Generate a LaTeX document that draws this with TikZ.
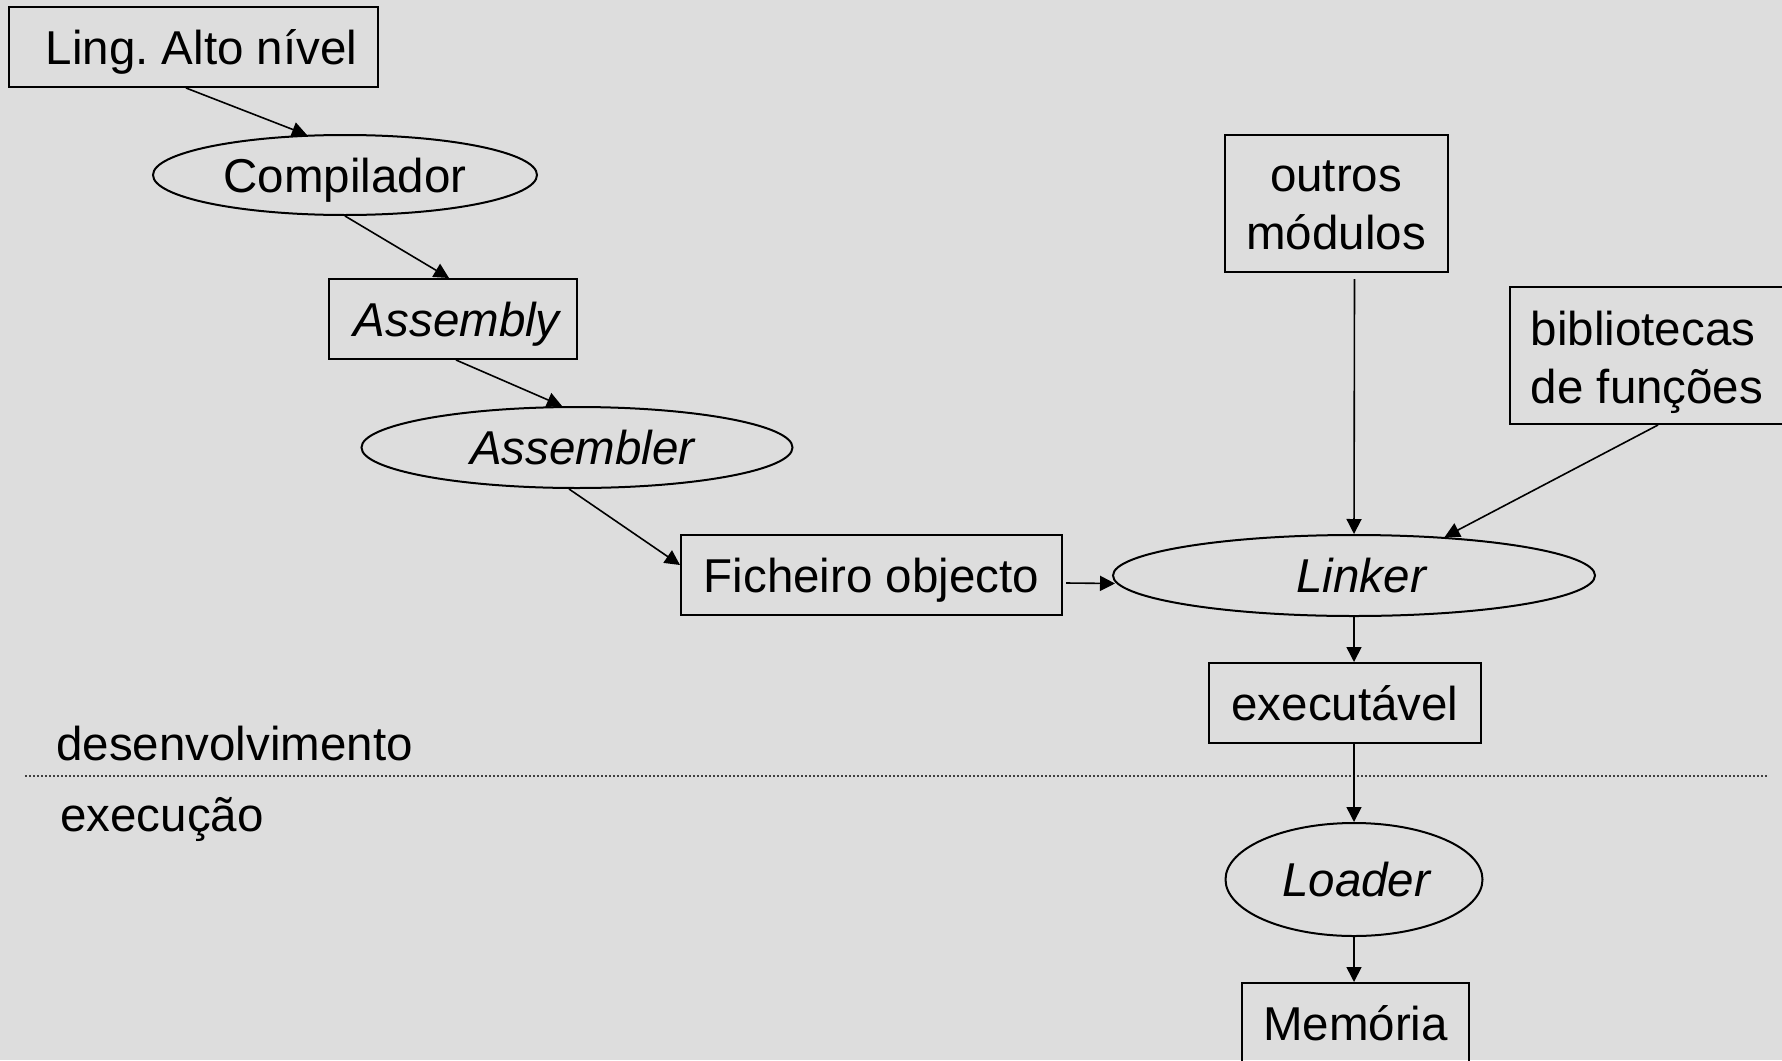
\documentclass[tikz,border=0pt]{standalone}
\usepackage{fontspec}
\setmainfont{Liberation Sans}
\usetikzlibrary{shapes.geometric,arrows.meta,calc}
\definecolor{bg}{RGB}{221,221,221}
\newcommand\lstrut{\rule[-3.3pt]{0pt}{23.7pt}}
\newcommand\tstrut{\rule[-3.3pt]{0pt}{27.2pt}}
\begin{document}
\begin{tikzpicture}[x=0.5pt,y=-0.5pt,
  every node/.style={font=\fontsize{23.75}{28.75}\selectfont, inner sep=0pt},
  txt/.style={text height=20.4pt,text depth=3.3pt},
  boxnode/.style={draw,line width=1pt,rectangle},
  ellnode/.style={draw,line width=1pt,ellipse},
  flow/.style={line width=0.8pt,-{Triangle[length=7.5pt,width=7.5pt]}},
  sep/.style={line width=0.6pt,black!75,dash pattern=on 0.8pt off 1.2pt}
]
\fill[bg] (0,0) rectangle (1782,1060);
\useasboundingbox (0,0) rectangle (1782,1060);

\node[boxnode,txt,minimum width=184.5pt,minimum height=40pt] (ling) at (193.5,47) {\hspace{8pt}Ling.\ Alto nível};
\node[ellnode,txt,minimum width=192pt,minimum height=40pt] (comp) at (345,175) {Compilador};
\node[boxnode,txt,minimum width=124pt,minimum height=40pt] (asmb) at (453,319) {\hspace{5pt}\textit{Assembly}};
\node[ellnode,txt,minimum width=215.5pt,minimum height=40.5pt] (asml) at (577,447.5) {\hspace{6pt}\textit{Assembler}};
\node[boxnode,txt,minimum width=190.5pt,minimum height=40pt] (fich) at (871.5,575) {Ficheiro objecto};
\node[ellnode,txt,minimum width=241pt,minimum height=40.5pt] (link) at (1354,575.5) {\hspace{8pt}\textit{Linker}};
\node[boxnode,align=center,minimum width=111.5pt,minimum height=68.5pt] (outros) at (1336,203.5) {\lstrut outros\\\lstrut módulos};
\node[boxnode,align=left,minimum width=137pt,minimum height=68.5pt] (bib) at (1647,355.5) {\tstrut bibliotecas\\\lstrut de funções};
\node[boxnode,txt,minimum width=136pt,minimum height=40pt] (exec) at (1345,703) {executável};
\node[ellnode,txt,minimum width=128.5pt,minimum height=56.5pt] (load) at (1354,879.5) {\hspace{3pt}\textit{Loader}};
\node[boxnode,txt,minimum width=113.5pt,minimum height=40pt] (mem) at (1355.5,1023) {Memória};

\node[anchor=base west] (dev) at (56,760) {desenvolvimento};
\node[anchor=base west] (exe) at (60,831) {execução};
\coordinate (sepL) at (25,776);
\coordinate (sepR) at (1767,776);
\draw[sep] (sepL) -- (sepR);

\draw[flow] ($(ling.south)+(-7.5,0)$) -- ($(comp.north)+(-38,1)$);
\draw[flow] (comp.south) -- ($(asmb.north)+(-4,0)$);
\draw[flow] ($(asmb.south)+(3,0)$) -- ($(asml.north)+(-15,0)$);
\draw[flow] ($(asml.south)+(-8,0)$) -- ($(fich.west)+(0,-10)$);
\draw[flow] ($(fich.east)+(3,8)$) -- ($(link.west)+(3,8)$);
\draw[flow] ($(outros.south)+(18.5,6)$) -- (link.north);
\draw[flow] ($(bib.south)+(11,0)$) -- (link.23.5);
\draw[flow] (link.south) -- (link.south |- exec.north);
\draw[flow] (load.north |- exec.south) -- (load.north);
\draw[flow] (load.south) -- (load.south |- mem.north);
\end{tikzpicture}
\end{document}
